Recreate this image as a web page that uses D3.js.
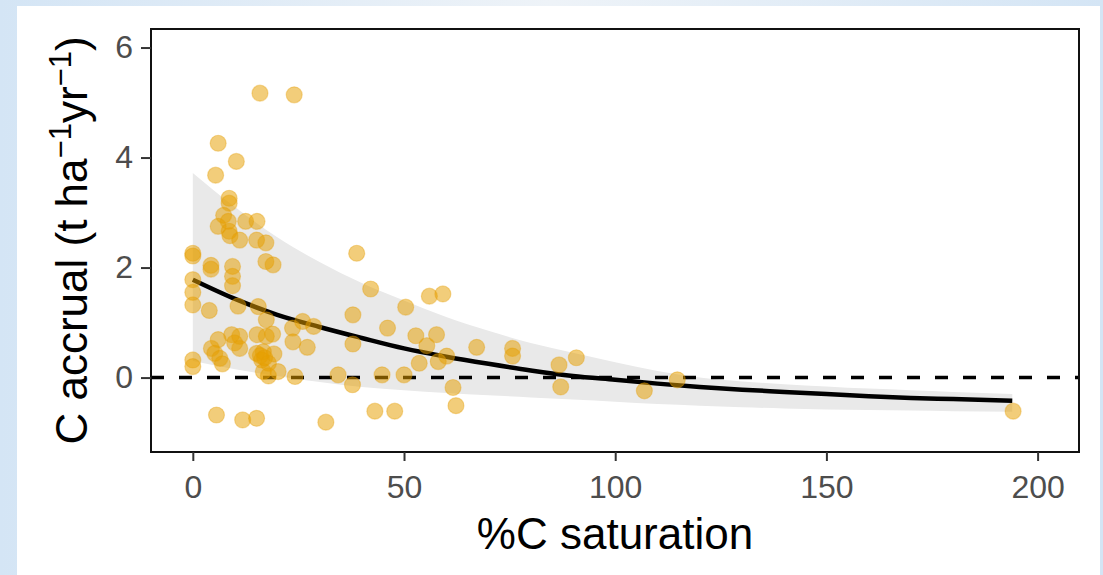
<!DOCTYPE html>
<html>
  <head>
    <meta charset="utf-8">
    <script src="https://cdn.jsdelivr.net/npm/d3@7"></script>
    <style>
      body { margin: 0; }
      svg { display: block; }
    </style>
  </head>
  <body>
    <script>
var width = 1103;
var height = 575;

// observed points: %C saturation and C accrual
var satX = [15.9, 24.0, 6.0, 10.3, 5.4, 8.6, 8.6, 7.3, 6.0, 8.4, 8.6, 8.8, 11.1, 12.5, 15.2, 15.1, 17.3,
  0, 0, 38.8, 4.3, 4.3, 9.4, 9.4, 9.4, 17.3, 19.0, 0, 0, 0, 3.9, 10.7, 15.5, 17.4, 42.1, 50.4, 56.0, 59.2,
  37.9, 46.1, 23.6, 26.0, 28.6, 23.7, 27.1, 52.8, 57.7, 55.4, 53.6, 58.1, 60.1, 67.2, 75.7, 75.7, 37.9,
  6.0, 4.4, 5.2, 6.4, 7.0, 0, 0, 9.2, 11.1, 9.9, 11.1, 15.2, 17.4, 18.9, 15.1, 16.7, 16.3, 17.9, 19.2,
  16.7, 17.9, 20.2, 24.2, 34.4, 37.8, 44.8, 50.0, 61.6, 62.3, 43.1, 47.8, 5.6, 11.8, 15.1, 31.5,
  86.7, 90.8, 87.1, 106.9, 114.7, 194.2, 16.0, 17.0];
var accrual = [5.17, 5.14, 4.26, 3.93, 3.68, 3.26, 3.17, 2.95, 2.75, 2.84, 2.66, 2.58, 2.50, 2.84, 2.84, 2.50, 2.45,
  2.26, 2.21, 2.26, 2.04, 1.97, 2.02, 1.84, 1.67, 2.11, 2.05, 1.78, 1.55, 1.32, 1.22, 1.30, 1.29, 1.05, 1.61, 1.28, 1.48, 1.52,
  1.14, 0.90, 0.90, 1.02, 0.93, 0.65, 0.55, 0.76, 0.78, 0.58, 0.26, 0.29, 0.39, 0.55, 0.53, 0.39, 0.61,
  0.69, 0.53, 0.44, 0.35, 0.25, 0.32, 0.20, 0.78, 0.75, 0.63, 0.53, 0.78, 0.75, 0.79, 0.44, 0.47, 0.32, 0.26, 0.43,
  0.11, 0.03, 0.11, 0.02, 0.05, -0.13, 0.05, 0.05, -0.18, -0.51, -0.61, -0.61, -0.68, -0.77, -0.74, -0.81,
  0.23, 0.36, -0.17, -0.24, -0.04, -0.61, 0.40, 0.36];

// fitted curve and its confidence band
var fitX = [0, 10, 20, 30, 40, 50, 60, 70, 80, 90, 100, 110, 120, 130, 140, 150, 160, 170, 180, 194];
var fitY = [1.78, 1.43, 1.14, 0.92, 0.72, 0.53, 0.38, 0.25, 0.13, 0.03, -0.04, -0.11, -0.17, -0.22, -0.26, -0.30, -0.34, -0.37, -0.39, -0.42];
var fitUpper = [3.72, 3.10, 2.55, 2.10, 1.72, 1.40, 1.10, 0.85, 0.63, 0.45, 0.28, 0.12, 0.00, -0.07, -0.12, -0.16, -0.20, -0.23, -0.26, -0.30];
var fitLower = [0.30, 0.15, 0.03, -0.08, -0.17, -0.23, -0.28, -0.32, -0.36, -0.40, -0.44, -0.48, -0.51, -0.54, -0.56, -0.58, -0.59, -0.60, -0.61, -0.62];

var xTicks = [0, 50, 100, 150, 200];
var yTicks = [0, 2, 4, 6];

var svg = d3.select('body').append('svg')
  .attr('width', width)
  .attr('height', height);

// Background: pale blue frame with a white card
var grad = svg.append('defs').append('linearGradient')
  .attr('id', 'bg')
  .attr('x1', 0).attr('x2', 1).attr('y1', 0).attr('y2', 0);
grad.append('stop').attr('offset', '0%').attr('stop-color', '#d4e5f5');
grad.append('stop').attr('offset', '50%').attr('stop-color', '#eef3f8');
grad.append('stop').attr('offset', '100%').attr('stop-color', '#d4e5f5');

svg.append('rect')
  .attr('width', width).attr('height', height)
  .style('fill', 'url(#bg)');
svg.append('rect')
  .attr('x', 17).attr('y', 6)
  .attr('width', 1083).attr('height', height - 6)
  .style('fill', '#ffffff');

var panel = {left: 151, top: 29, right: 1079, bottom: 452};

var x = d3.scaleLinear()
  .domain([-9.9, 209.8])
  .range([panel.left, panel.right]);
var y = d3.scaleLinear()
  .domain([-1.353, 6.337])
  .range([panel.bottom, panel.top]);

var fit = fitX.map(function(d, i) {
  return {x: d, y: fitY[i], lo: fitLower[i], hi: fitUpper[i]};
});
var points = satX.map(function(d, i) {
  return {x: d, y: accrual[i]};
});

// confidence band
svg.append('path')
  .datum(fit)
  .attr('d', d3.area()
    .curve(d3.curveMonotoneX)
    .x(function(d) { return x(d.x); })
    .y0(function(d) { return y(d.lo); })
    .y1(function(d) { return y(d.hi); }))
  .style('fill', '#e9e9e9');

// zero reference
svg.append('line')
  .attr('x1', panel.left).attr('x2', panel.right)
  .attr('y1', y(0)).attr('y2', y(0))
  .style('stroke', '#000')
  .style('stroke-width', 3.5)
  .style('stroke-dasharray', '13,15');

// fitted line
svg.append('path')
  .datum(fit)
  .attr('d', d3.line()
    .curve(d3.curveMonotoneX)
    .x(function(d) { return x(d.x); })
    .y(function(d) { return y(d.y); }))
  .style('fill', 'none')
  .style('stroke', '#000')
  .style('stroke-width', 4.5);

svg.append('g').selectAll('circle')
  .data(points)
  .enter()
  .append('circle')
    .attr('cx', function(d) { return x(d.x); })
    .attr('cy', function(d) { return y(d.y); })
    .attr('r', 8)
    .style('fill', 'rgba(230,159,0,0.52)')
    .style('stroke', 'rgba(230,159,0,0.35)')
    .style('stroke-width', 1.2);

// panel border
svg.append('rect')
  .attr('x', panel.left).attr('y', panel.top)
  .attr('width', panel.right - panel.left)
  .attr('height', panel.bottom - panel.top)
  .style('fill', 'none')
  .style('stroke', '#111')
  .style('stroke-width', 2);

// axes
var xAxis = svg.append('g')
  .attr('transform', 'translate(0,' + panel.bottom + ')')
  .call(d3.axisBottom(x).tickValues(xTicks).tickSize(9).tickPadding(14));
var yAxis = svg.append('g')
  .attr('transform', 'translate(' + panel.left + ',0)')
  .call(d3.axisLeft(y).tickValues(yTicks).tickSize(10).tickPadding(8));

[xAxis, yAxis].forEach(function(a) {
  a.select('.domain').remove();
  a.selectAll('.tick line').style('stroke', '#333').style('stroke-width', 2);
  a.selectAll('.tick text')
    .style('font-family', '"Liberation Sans", Arial, sans-serif')
    .style('font-size', '32px')
    .style('fill', '#4d4d4d');
});

// axis titles
svg.append('text')
  .attr('x', (panel.left + panel.right) / 2)
  .attr('y', 549)
  .attr('text-anchor', 'middle')
  .style('font-family', '"Liberation Sans", Arial, sans-serif')
  .style('font-size', '44px')
  .style('fill', '#000')
  .text('%C saturation');

var yTitle = svg.append('text')
  .attr('transform', 'translate(87,' + ((panel.top + panel.bottom) / 2) + ') rotate(-90)')
  .attr('text-anchor', 'middle')
  .style('font-family', '"Liberation Sans", Arial, sans-serif')
  .style('font-size', '44px')
  .style('fill', '#000');
yTitle.append('tspan').text('C accrual (t ha');
yTitle.append('tspan').attr('dy', -16).style('font-size', '31px').text('\u22121');
yTitle.append('tspan').attr('dy', 16).text('yr');
yTitle.append('tspan').attr('dy', -16).style('font-size', '31px').text('\u22121');
yTitle.append('tspan').attr('dy', 16).text(')');
    </script>
  </body>
</html>
